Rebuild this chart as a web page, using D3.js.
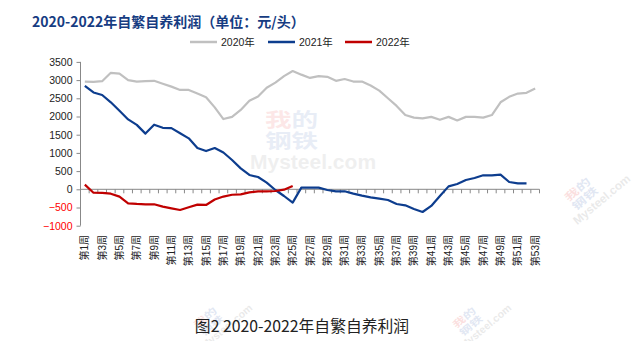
<!DOCTYPE html>
<html><head><meta charset="utf-8">
<script src="https://cdn.jsdelivr.net/npm/d3@7"></script>
<style>body{margin:0;background:#fff;} svg{display:block;}</style>
</head><body>
<svg id="c" width="641" height="341"></svg>
<script>
const weeks = d3.range(1, 54).map(i => "第" + i + "周");
const seriesNames = ["2020年", "2021年", "2022年"];
const colors = ["#c0c0c0", "#0d3d8e", "#c00000"];
const v2020 = [2960,2950,2970,3200,3180,3000,2960,2970,2980,2900,2820,2730,2730,2630,2530,2250,1930,1990,2180,2430,2550,2790,2930,3110,3250,3150,3060,3110,3090,2980,3030,2960,2960,2850,2710,2500,2290,2040,1970,1950,1990,1910,1990,1890,1990,1990,1970,2040,2390,2540,2630,2650,2770];
const v2021 = [2840,2660,2590,2390,2160,1920,1770,1530,1775,1690,1680,1540,1400,1135,1050,1135,1010,805,576,393,338,183,-19,-184,-367,45,45,45,-19,-55,-55,-119,-174,-220,-257,-293,-403,-440,-541,-623,-458,-184,80,146,256,311,384,384,402,201,165,165];
const v2022 = [127,-93,-100,-120,-202,-385,-403,-412,-412,-477,-522,-568,-495,-421,-430,-280,-200,-150,-138,-85,-55,-55,-47,-10,91];
const yTicks = [-1000,-500,0,500,1000,1500,2000,2500,3000,3500];
const titleText = "2020-2022年自繁自养利润（单位：元/头）";
const captionText = "图2 2020-2022年自繁自养利润";

const svg = d3.select("#c");
const x = d3.scaleBand().domain(weeks).range([80.5, 539.5]);
const y = d3.scaleLinear().domain([-1000, 3500]).range([225.7, 61.9]);

svg.append("defs").append("clipPath").attr("id", "bclip")
  .append("rect").attr("x", 0).attr("y", 297).attr("width", 641).attr("height", 44);

// faint watermarks
function watermark(g, sx, sy, sc, rot, op) {
  const w = g.append("g").attr("transform", `translate(${sx},${sy}) rotate(${rot}) scale(${sc})`).attr("opacity", op)
    .style("font-family", "'Noto Sans CJK SC'").style("font-weight", "bold");
  const t1 = w.append("text").attr("transform", "translate(15,17) scale(1.4,1)").style("font-size", "19px");
  t1.append("tspan").attr("fill", "#e00000").text("我");
  t1.append("tspan").attr("fill", "#1040a0").text("的");
  w.append("text").attr("transform", "translate(15,38) scale(1.4,1)").attr("fill", "#1040a0").style("font-size", "19px").text("钢铁");
  w.append("text").attr("x", 0).attr("y", 59).attr("fill", "#555").style("font-size", "21px")
    .style("font-family", "'Liberation Sans'").text("Mysteel.com");
}
const wm = svg.append("g");
watermark(wm, 250, 110, 1, 0, 0.09);
watermark(wm, 556, 200, 0.56, -40, 0.12);
const wmb = svg.append("g").attr("clip-path", "url(#bclip)");
watermark(wmb, 186, 327, 0.5, -40, 0.12);
watermark(wmb, 445, 327, 0.5, -40, 0.12);

// title
svg.append("text").attr("x", 32).attr("y", 27).attr("fill", "#163c82")
  .style("font-family", "'Noto Sans CJK SC'").style("font-weight", "bold").style("font-size", "14px")
  .text(titleText);

// legend
const legendX = [190, 268, 345];
seriesNames.forEach((n, i) => {
  const g = svg.append("g").attr("transform", `translate(${legendX[i]},42)`);
  g.append("line").attr("x1", 0).attr("x2", 27).attr("y1", 0).attr("y2", 0).attr("stroke", colors[i]).attr("stroke-width", 2.5);
  g.append("text").attr("x", 31).attr("y", 4).attr("fill", "#222")
    .style("font-family", "'Liberation Sans','Noto Sans CJK SC'").style("font-size", "10.5px").text(n);
});

// y axis
const yAxis = svg.append("g").attr("transform", "translate(80.5,0)")
  .call(d3.axisLeft(y).tickValues(yTicks).tickSize(4).tickPadding(4).tickFormat(d3.format("d")));
yAxis.select(".domain").attr("stroke", "#888").attr("d", `M0,${y(-1000)}V${y(3500)}`);
yAxis.selectAll(".tick line").attr("stroke", "#888");
yAxis.selectAll(".tick text").style("font-family", "'Liberation Sans'").style("font-size", "10.5px")
  .attr("fill", d => d < 0 ? "#ff0000" : "#222");

// x axis at zero
const xAxis = svg.append("g").attr("transform", `translate(0,${y(0)})`)
  .call(d3.axisBottom(x).tickSize(0).tickFormat(""));
xAxis.select(".domain").attr("stroke", "#888").attr("d", `M80.5,0H539.5`);
const bounds = d3.range(0, 54).map(i => 80.5 + i * x.step());
xAxis.selectAll(".bt").data(bounds).join("line").attr("class", "bt")
  .attr("x1", d => d).attr("x2", d => d).attr("y1", 0).attr("y2", 4).attr("stroke", "#888");

// x labels at bottom
svg.append("g").selectAll("text").data(weeks.filter((d, i) => i % 2 === 0)).join("text")
  .attr("transform", d => `translate(${x(d) + x.bandwidth() / 2 + 3.5},235) rotate(-90)`)
  .attr("text-anchor", "end").attr("fill", "#222")
  .style("font-family", "'Liberation Sans','Noto Sans CJK SC'").style("font-size", "10px")
  .text(d => d);

// lines
const line = d3.line().x((d, i) => x(weeks[i]) + x.bandwidth() / 2).y(d => y(d));
[v2020, v2021, v2022].forEach((vals, i) => {
  svg.append("path").datum(vals).attr("d", line).attr("fill", "none")
    .attr("stroke", colors[i]).attr("stroke-width", 2.2).attr("stroke-linejoin", "round");
});

// caption
svg.append("text").attr("x", 302).attr("y", 332).attr("text-anchor", "middle").attr("fill", "#222")
  .style("font-family", "'Noto Sans CJK SC'").style("font-size", "15.8px").text(captionText);
</script>
</body></html>
